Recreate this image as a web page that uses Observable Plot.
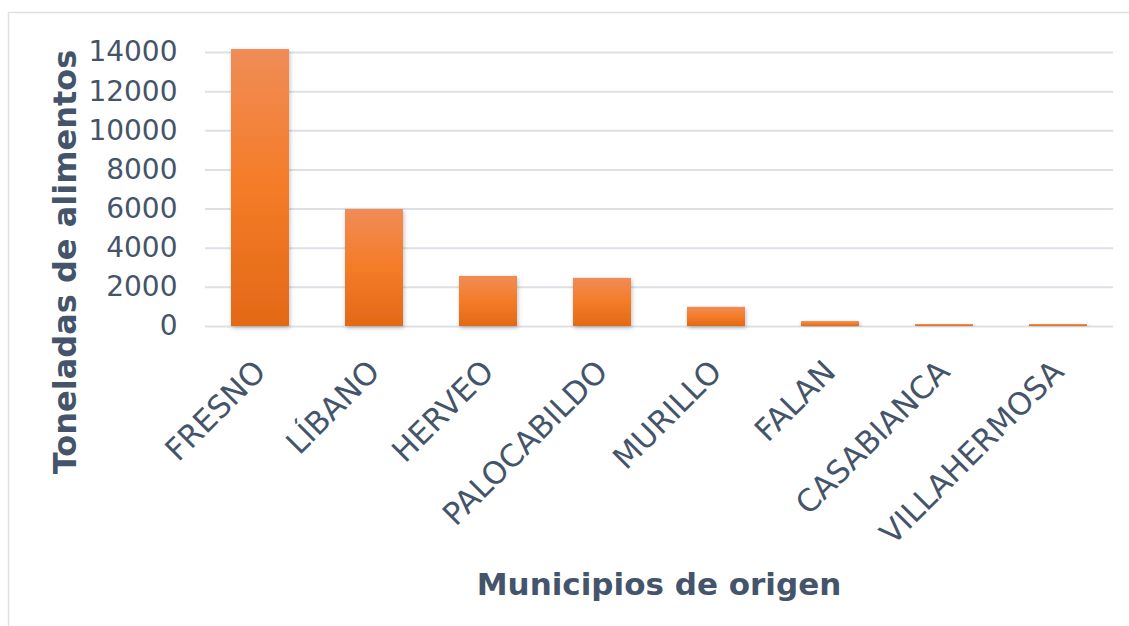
<!DOCTYPE html>
<html>
<head>
<meta charset="utf-8">
<script src="https://cdn.jsdelivr.net/npm/d3@7"></script>
<script src="https://cdn.jsdelivr.net/npm/@observablehq/plot@0.6"></script>
<style>
  html, body { margin: 0; padding: 0; background: #fff; }
  #chart { position: relative; width: 1129px; height: 626px; overflow: hidden; }
</style>
</head>
<body>
<div id="chart"></div>
<script>
const municipios = ["FRESNO", "LÍBANO", "HERVEO", "PALOCABILDO", "MURILLO", "FALAN", "CASABIANCA", "VILLAHERMOSA"];
const toneladas = [14150, 5980, 2560, 2460, 980, 250, 100, 100];
const yTicks = [0, 2000, 4000, 6000, 8000, 10000, 12000, 14000];
const yTitle = "Toneladas de alimentos";
const xTitle = "Municipios de origen";

const data = municipios.map((m, i) => ({municipio: m, valor: toneladas[i]}));
const textColor = "#44546A";

const plot = Plot.plot({
  width: 1129,
  height: 626,
  marginLeft: 205,
  marginRight: 16,
  marginTop: 52,
  marginBottom: 300,
  style: {fontFamily: "'DejaVu Sans', Verdana, sans-serif", fontSize: "28px", color: textColor, background: "transparent", overflow: "visible"},
  x: {domain: municipios, paddingInner: 0.49, paddingOuter: 0.2, label: null, tickSize: 0, tickPadding: 40, tickRotate: -45},
  y: {domain: [0, 14000], ticks: yTicks, tickFormat: d => String(d), label: null, tickSize: 0, tickPadding: 28},
  marks: [
    Plot.ruleY(yTicks, {stroke: "#DDE1E6", strokeWidth: 2}),
    Plot.barY(data, {x: "municipio", y: "valor", fill: "url(#barGrad)"})
  ]
});

const svg = d3.select(plot);
const defs = svg.insert("defs", ":first-child");
const g = defs.append("linearGradient").attr("id", "barGrad").attr("x1", 0).attr("y1", 0).attr("x2", 0).attr("y2", 1);
g.append("stop").attr("offset", "0%").attr("stop-color", "#F08C57");
g.append("stop").attr("offset", "50%").attr("stop-color", "#F47C27");
g.append("stop").attr("offset", "100%").attr("stop-color", "#E36917");
const f = defs.append("filter").attr("id", "shadow").attr("x", "-20%").attr("y", "-20%").attr("width", "140%").attr("height", "140%");
f.append("feDropShadow").attr("dx", 1).attr("dy", 2).attr("stdDeviation", 2).attr("flood-color", "#000").attr("flood-opacity", 0.25);
svg.selectAll("rect").filter(function() { return d3.select(this).attr("fill") === "url(#barGrad)" || (this.parentNode && d3.select(this.parentNode).attr("fill") === "url(#barGrad)"); }).attr("filter", "url(#shadow)");

// x tick labels slightly larger
svg.selectAll('g[aria-label^="x-axis"] text').attr("font-size", 31);

// border
svg.insert("rect", "defs + *").attr("x", 8.5).attr("y", 12.5).attr("width", 1200).attr("height", 700)
  .attr("fill", "none").attr("stroke", "#DDE1E6").attr("stroke-width", 1.5);

// titles
svg.append("text").attr("transform", "translate(76,262) rotate(-90)")
  .attr("text-anchor", "middle").attr("fill", textColor)
  .attr("font-weight", "bold").attr("font-size", 32).text(yTitle);
svg.append("text").attr("x", 659).attr("y", 595)
  .attr("text-anchor", "middle").attr("fill", textColor)
  .attr("font-weight", "bold").attr("font-size", 31).text(xTitle);

document.getElementById("chart").appendChild(plot);
</script>
</body>
</html>
